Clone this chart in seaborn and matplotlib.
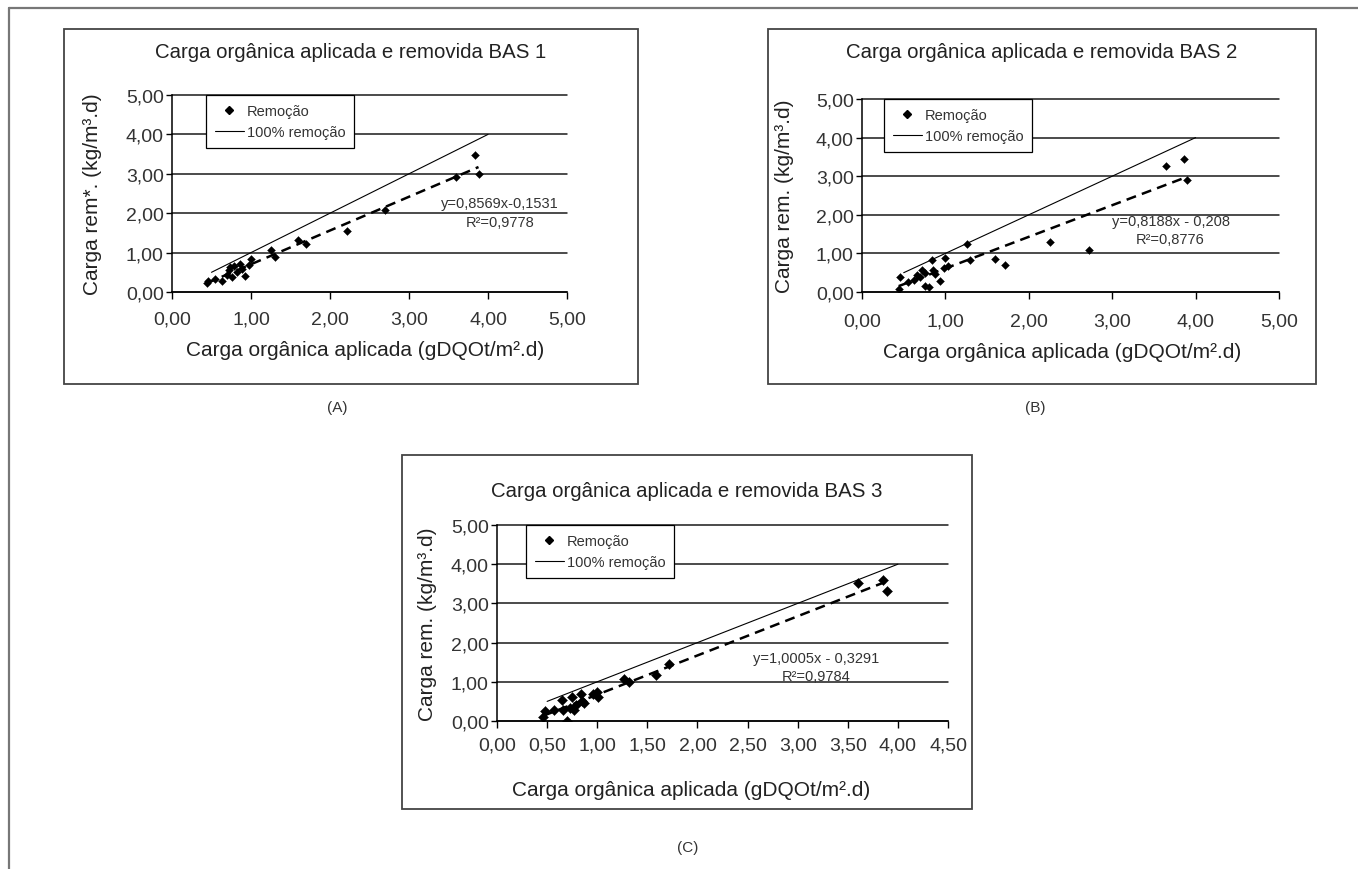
import numpy as np
import pandas as pd
import seaborn as sns
import matplotlib.pyplot as plt
from matplotlib.lines import Line2D
from matplotlib.patches import Rectangle
from matplotlib.ticker import FuncFormatter, MultipleLocator

# --- dados (carga aplicada x carga removida) ---
bas1_x = [0.44, 0.46, 0.55, 0.63, 0.70, 0.72, 0.74, 0.76, 0.79, 0.82, 0.86, 0.89,
          0.92, 0.97, 1.00, 1.25, 1.30, 1.59, 1.70, 2.22, 2.70, 3.59, 3.83, 3.88]
bas1_y = [0.22, 0.27, 0.33, 0.29, 0.42, 0.56, 0.63, 0.38, 0.67, 0.50, 0.72, 0.59,
          0.41, 0.68, 0.85, 1.06, 0.88, 1.31, 1.21, 1.54, 2.09, 2.91, 3.48, 3.00]

bas2_x = [0.44, 0.46, 0.55, 0.62, 0.66, 0.70, 0.72, 0.75, 0.76, 0.80, 0.84, 0.85, 0.87,
          0.93, 0.98, 1.00, 1.03, 1.26, 1.30, 1.59, 1.72, 2.25, 2.72, 3.64, 3.86, 3.90]
bas2_y = [0.07, 0.39, 0.26, 0.32, 0.44, 0.38, 0.58, 0.50, 0.15, 0.12, 0.84, 0.58, 0.47,
          0.29, 0.61, 0.88, 0.67, 1.24, 0.82, 0.85, 0.71, 1.30, 1.10, 3.26, 3.45, 2.91]

bas3_x = [0.46, 0.48, 0.57, 0.65, 0.66, 0.70, 0.73, 0.75, 0.77, 0.79, 0.84, 0.85,
          0.87, 0.96, 1.00, 1.01, 1.27, 1.32, 1.59, 1.72, 3.60, 3.85, 3.89]
bas3_y = [0.09, 0.25, 0.29, 0.53, 0.28, 0.01, 0.33, 0.62, 0.27, 0.40, 0.69, 0.52,
          0.45, 0.69, 0.74, 0.62, 1.06, 0.99, 1.17, 1.45, 3.52, 3.60, 3.32]

titles = ["Carga orgânica aplicada e removida BAS 1",
          "Carga orgânica aplicada e removida BAS 2",
          "Carga orgânica aplicada e removida BAS 3"]
ylabels = ["Carga rem*. (kg/m³.d)", "Carga rem. (kg/m³.d)", "Carga rem. (kg/m³.d)"]
xlabel = "Carga orgânica aplicada (gDQOt/m².d)"
panel_tags = ["(A)", "(B)", "(C)"]
legend_labels = ["Remoção", "100% remoção"]

# linhas de tendência (equações do gráfico)
slopes = [0.8569, 0.8188, 1.0005]
intercepts = [-0.1531, -0.208, -0.3291]
eq_texts = ["y=0,8569x-0,1531", "y=0,8188x - 0,208", "y=1,0005x - 0,3291"]
r2_texts = ["R²=0,9778", "R²=0,8776", "R²=0,9784"]
ideal_range = [0.5, 4.0]   # linha 100% remoção (y = x)
x_max = [5.0, 5.0, 4.5]
x_step = [1.0, 1.0, 0.5]

datasets = [(bas1_x, bas1_y), (bas2_x, bas2_y), (bas3_x, bas3_y)]

# --- layout (pixels) ---
W, H = 1358, 870
axes_px = [(172, 96, 567, 293), (862, 100, 1279, 293), (497, 526, 948, 722)]
box_px = [(64, 30, 638, 385), (768, 30, 1316, 385), (402, 456, 972, 810)]
title_px = [(351, 53), (1042, 53), (687, 492)]
tag_px = [(337, 408), (1035, 408), (688, 848)]
ylab_x = [-0.20, -0.187, -0.153]
xlab_pos = [(0.49, -0.29), (0.48, -0.31), (0.43, -0.35)]
xpad = [8, 10, 6]
legend_x = [0.086, 0.053, 0.064]
eq_pos = [(4.15, 2.25, 1.78), (3.70, 1.84, 1.37), (3.18, 1.60, 1.14)]
marker_s = [16, 16, 26]

sns.set_theme(style="white")
plt.rcParams['font.family'] = ['Liberation Sans', 'DejaVu Sans']

fig = plt.figure(figsize=(W / 100, H / 100), dpi=100)

# moldura externa
fig.add_artist(Line2D([9 / W, 9 / W], [0, 1 - 9 / H], transform=fig.transFigure,
                      color='#777777', lw=1.6))
fig.add_artist(Line2D([9 / W, 1], [1 - 9 / H, 1 - 9 / H], transform=fig.transFigure,
                      color='#777777', lw=1.6))

comma = FuncFormatter(lambda v, p: f"{v:.2f}".replace('.', ','))

for i in range(3):
    xs, ys = datasets[i]
    l, t, r, b = axes_px[i]
    ax = fig.add_axes([l / W, 1 - b / H, (r - l) / W, (b - t) / H])

    bl, bt, br, bb = box_px[i]
    fig.add_artist(Rectangle((bl / W, 1 - bb / H), (br - bl) / W, (bb - bt) / H,
                             transform=fig.transFigure, fill=False,
                             edgecolor='#444444', lw=1.3))

    df = pd.DataFrame({'x': xs, 'y': ys})

    ax.set_xlim(0, x_max[i])
    ax.set_ylim(0, 5)
    ax.xaxis.set_major_locator(MultipleLocator(x_step[i]))
    ax.yaxis.set_major_locator(MultipleLocator(1))
    ax.xaxis.set_major_formatter(comma)
    ax.yaxis.set_major_formatter(comma)
    ax.yaxis.grid(True, color='#1a1a1a', lw=1.1)
    ax.set_axisbelow(True)

    # 100% remoção
    ax.plot(ideal_range, ideal_range, color='black', lw=0.8, zorder=2)
    # linha de tendência
    fx = np.array([min(xs), max(xs)])
    ax.plot(fx, slopes[i] * fx + intercepts[i], color='black', lw=1.8,
            linestyle=(0, (4, 2.5)), zorder=2)
    sns.scatterplot(data=df, x='x', y='y', marker='D', s=marker_s[i],
                    color='black', edgecolor='black', linewidth=0.3,
                    ax=ax, zorder=3, legend=False)

    ex, ey1, ey2 = eq_pos[i]
    ax.text(ex, ey1, eq_texts[i], ha='center', va='center', fontsize=10.5, color='#333333')
    ax.text(ex, ey2, r2_texts[i], ha='center', va='center', fontsize=10.5, color='#333333')

    sns.despine(ax=ax)
    for s in ['left', 'bottom']:
        ax.spines[s].set_color('black')
        ax.spines[s].set_linewidth(1.1)
    ax.tick_params(axis='x', bottom=True, direction='out', length=5, width=1,
                   color='black', labelcolor='#333333', labelsize=14, pad=xpad[i])
    ax.tick_params(axis='y', left=True, direction='out', length=4, width=1,
                   color='black', labelcolor='#333333', labelsize=14, pad=2)

    ax.set_xlabel(xlabel, fontsize=15, color='#222222')
    ax.set_ylabel(ylabels[i], fontsize=15, color='#222222')
    ax.xaxis.set_label_coords(*xlab_pos[i])
    ax.xaxis.label.set_verticalalignment('center')
    ax.yaxis.set_label_coords(ylab_x[i], 0.5)
    ax.yaxis.label.set_verticalalignment('center')

    handles = [Line2D([], [], marker='D', ls='None', color='black', markersize=4),
               Line2D([], [], color='black', lw=0.8)]
    leg = ax.legend(handles, legend_labels, loc='upper left',
                    bbox_to_anchor=(legend_x[i], 1.0), frameon=True, fancybox=False,
                    edgecolor='black', framealpha=1, fontsize=10.5, handlelength=2.0,
                    handletextpad=0.2, borderpad=0.6, labelspacing=0.5, borderaxespad=0)
    leg.get_frame().set_linewidth(0.9)
    for txt in leg.get_texts():
        txt.set_color('#333333')

    # linhas de grade sem recorte (a de 5,00 fica inteira)
    fig.canvas.draw()
    for gl in ax.get_ygridlines():
        gl.set_clip_on(False)

    tx, ty = title_px[i]
    fig.text(tx / W, 1 - ty / H, titles[i], ha='center', va='center',
             fontsize=14.7, color='#222222')
    gx, gy = tag_px[i]
    fig.text(gx / W, 1 - gy / H, panel_tags[i], ha='center', va='center',
             fontsize=11, color='#333333')

fig.savefig("out.png", dpi=100)
